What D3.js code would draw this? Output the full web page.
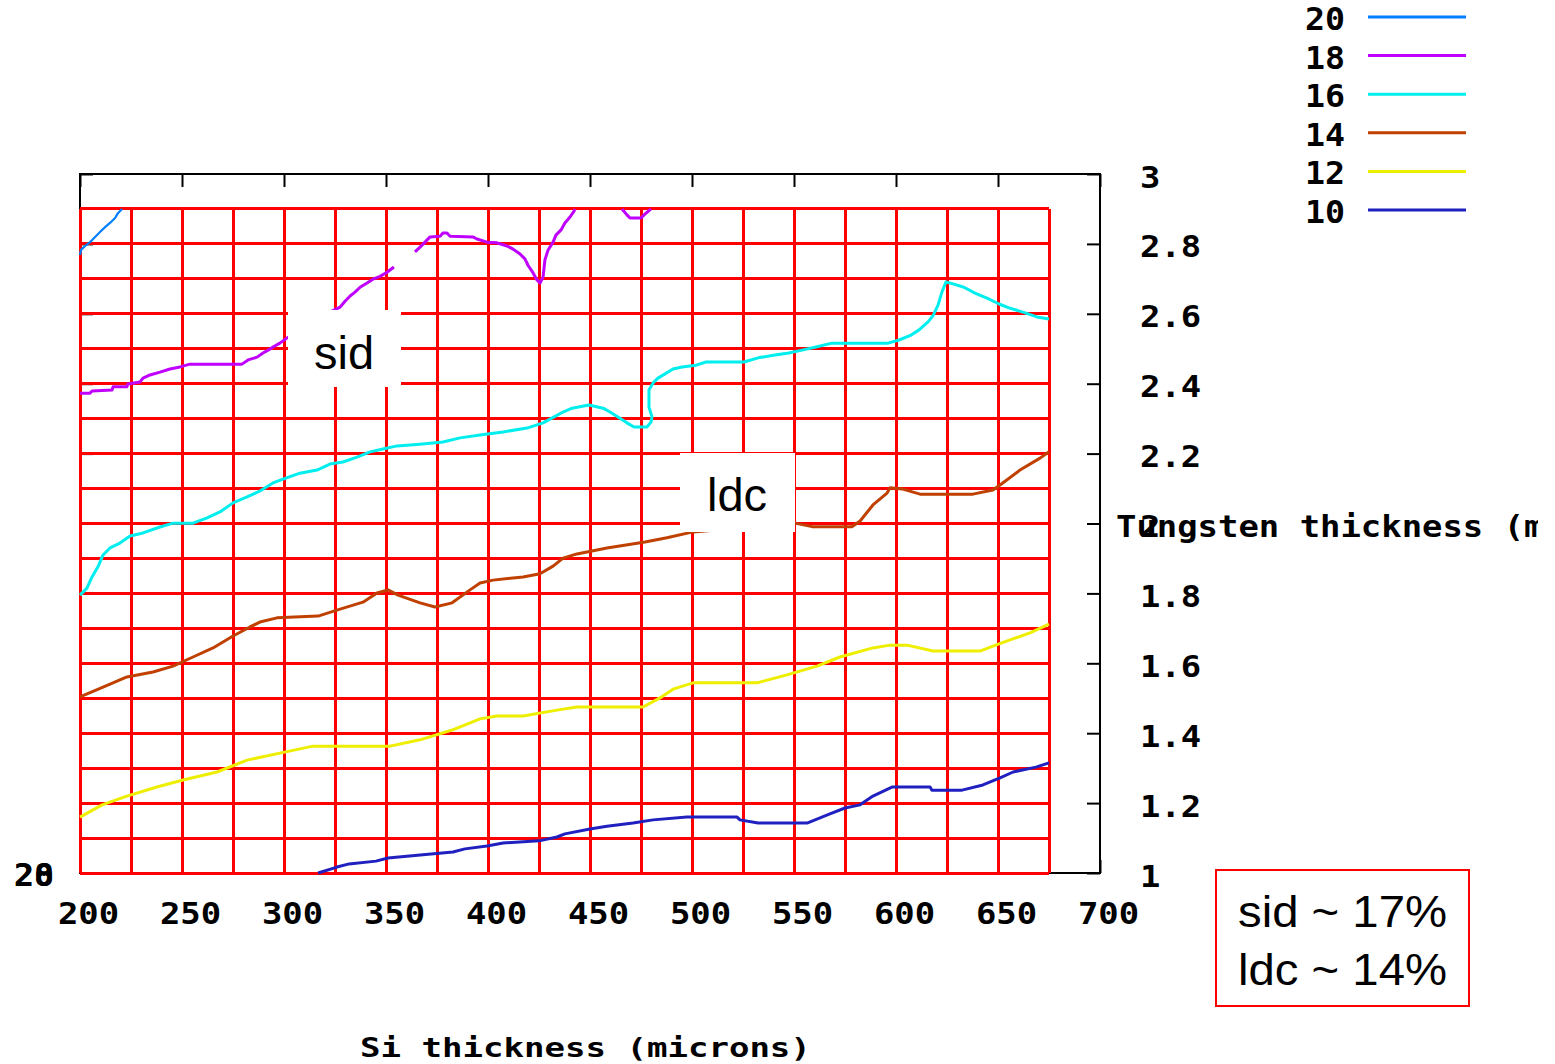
<!DOCTYPE html>
<html><head><meta charset="utf-8">
<script src="https://cdn.jsdelivr.net/npm/d3@7"></script>
<style>body{margin:0;background:#fff}svg{display:block}</style>
</head><body>
<svg id="c" width="1555" height="1064"></svg>
<script>
// ---------- data ----------
const xTicks = [200, 250, 300, 350, 400, 450, 500, 550, 600, 650, 700];
const yTicks = [1, 1.2, 1.4, 1.6, 1.8, 2, 2.2, 2.4, 2.6, 2.8, 3];
const gridX = [200,225,250,275,300,325,350,375,400,425,450,475,500,525,550,575,600,625,650,675];
const gridY = [1.0,1.1,1.2,1.3,1.4,1.5,1.6,1.7,1.8,1.9,2.0,2.1,2.2,2.3,2.4,2.5,2.6,2.7,2.8,2.9];
const levels = ["20", "18", "16", "14", "12", "10"];

const s20 = [[200,2.768],[200.5,2.783],[202.5,2.794],[204.9,2.805],[207.4,2.820],[209.8,2.834],[212.3,2.848],[214.7,2.860],[217.2,2.874],[218.6,2.888],[220.6,2.9]];
const s18 = [[200,2.373],[204.9,2.373],[205.9,2.379],[215.7,2.382],[216.2,2.391],[223.0,2.391],[223.5,2.399],[229.4,2.405],[230.9,2.416],[234.3,2.425],[239.2,2.433],[244.1,2.442],[249.0,2.448],[253.9,2.456],[279.4,2.456],[282.4,2.468],[286.8,2.476],[289.7,2.488],[292.2,2.496],[294.6,2.505],[298.0,2.516],[301.5,2.531],[307.8,2.554],[315.2,2.582],[322.5,2.605],[327.5,2.619],[329.9,2.636],[332.4,2.651],[334.8,2.662],[337.3,2.676],[340.7,2.688],[343.6,2.699],[347.1,2.707],[350.5,2.719],[353.9,2.734],
  null,
  [364.2,2.777],[366.7,2.791],[369.1,2.805],[371.6,2.820],[376.5,2.822],[377.9,2.831],[379.9,2.831],[381.4,2.822],[392.6,2.820],[394.6,2.814],[399.5,2.805],[404.4,2.803],[409.3,2.794],[412.3,2.785],[415.7,2.771],[418.1,2.757],[419.6,2.739],[422.1,2.717],[424.0,2.697],[425.5,2.688],[427.0,2.705],[427.9,2.754],[429.4,2.782],[431.9,2.805],[433.3,2.825],[435.8,2.840],[437.7,2.860],[440.2,2.877],[442.2,2.894],[442.6,2.9],
  null,
  [465.7,2.9],[468.1,2.883],[469.6,2.874],[475.0,2.874],[476.5,2.883],[479.9,2.9]];
const s16 = [[200,1.795],[203.4,1.815],[205.9,1.847],[208.8,1.876],[211.3,1.910],[214.7,1.930],[219.6,1.944],[224.5,1.964],[230.9,1.973],[239.2,1.990],[245.6,2.001],[255.4,2.001],[262.3,2.016],[268.6,2.033],[275.0,2.059],[281.9,2.076],[288.2,2.093],[294.6,2.116],[299.5,2.127],[307.8,2.144],[316.2,2.153],[322.5,2.170],[328.9,2.176],[335.8,2.190],[342.2,2.205],[348.5,2.213],[355.4,2.222],[366.7,2.227],[377.9,2.233],[386.3,2.245],[396.1,2.253],[407.4,2.262],[419.1,2.273],[427.0,2.288],[432.4,2.305],[436.8,2.319],[441.2,2.330],[449.5,2.339],[456.4,2.330],[459.8,2.319],[463.7,2.305],[468.1,2.288],[471.6,2.276],[477.9,2.276],[479.9,2.290],[480.4,2.305],[478.9,2.333],[478.9,2.382],[480.9,2.402],[483.3,2.416],[486.8,2.428],[490.7,2.442],[495.1,2.448],[502.0,2.453],[506.9,2.462],[525.5,2.462],[532.4,2.474],[540.7,2.482],[547.5,2.488],[553.9,2.496],[560.8,2.505],[568.6,2.516],[596.1,2.516],[601.5,2.525],[607.4,2.539],[611.3,2.554],[615.7,2.577],[618.1,2.594],[620.6,2.625],[622.5,2.662],[624.5,2.691],[628.4,2.685],[633.3,2.676],[638.7,2.659],[644.6,2.645],[650.5,2.628],[655.4,2.617],[663.7,2.602],[669.1,2.591],[675,2.585]];
const s14 = [[200,1.504],[211.3,1.532],[223.0,1.561],[235.8,1.575],[245.6,1.592],[255.4,1.618],[265.2,1.644],[275.0,1.678],[283.3,1.704],[288.2,1.718],[296.6,1.730],[316.7,1.735],[327.5,1.755],[338.7,1.775],[345.6,1.801],[351.0,1.810],[355.9,1.795],[366.7,1.773],[374.0,1.761],[382.4,1.773],[391.2,1.810],[396.1,1.830],[402.5,1.838],[417.2,1.847],[425.5,1.856],[431.9,1.878],[436.8,1.901],[443.6,1.913],[458.3,1.930],[477.0,1.947],[487.7,1.959],[500.5,1.976],[523.5,1.987],[550.5,2.001],[558.8,1.991],[578.4,1.991],[582.4,2.007],[588.7,2.053],[595.6,2.087],[597.1,2.102],[602.9,2.099],[611.8,2.084],[637.7,2.084],[647.5,2.096],[651.0,2.110],[660.8,2.153],[670.6,2.187],[675,2.205]];
const s12 = [[200,1.160],[210.8,1.195],[223.0,1.220],[237.7,1.246],[250.5,1.266],[267.2,1.289],[281.9,1.323],[298.0,1.343],[314.2,1.363],[352.0,1.363],[366.7,1.381],[382.4,1.409],[396.1,1.441],[404.4,1.449],[417.2,1.449],[433.8,1.466],[443.6,1.475],[476.0,1.475],[484.3,1.501],[490.7,1.526],[500.5,1.544],[531.9,1.544],[546.6,1.567],[561.3,1.592],[572.5,1.618],[588.7,1.644],[597.1,1.652],[605.4,1.652],[618.1,1.635],[641.2,1.635],[647.5,1.649],[655.9,1.667],[665.7,1.687],[675,1.712]];
const s10 = [[316.7,1.0],[326.0,1.017],[331.9,1.026],[345.1,1.034],[351.0,1.043],[368.1,1.052],[382.8,1.060],[388.7,1.069],[399.5,1.077],[407.4,1.086],[425.0,1.092],[433.8,1.103],[437.7,1.112],[450.0,1.126],[458.3,1.134],[471.1,1.143],[480.9,1.152],[497.5,1.160],[522.1,1.160],[523.5,1.152],[532.4,1.143],[556.4,1.143],[567.6,1.169],[575.0,1.186],[582.4,1.195],[588.7,1.220],[598.0,1.246],[616.7,1.246],[617.6,1.237],[632.4,1.237],[642.6,1.252],[651.0,1.272],[657.4,1.289],[668.6,1.303],[675,1.315]];

const seriesList = [s20, s18, s16, s14, s12, s10];
const palette = ["#0080ff", "#c000ff", "#00eeee", "#c04000", "#eeee00", "#2020c0"];

// ---------- drawing ----------
const svg = d3.select("#c");
const FONT = '"DejaVu Sans Mono", monospace';
const x = d3.scaleLinear().domain([200, 700]).range([80, 1100]);
const y = d3.scaleLinear().domain([1, 3]).range([873, 174]);

function ptext(g, str, px, py, size, sx, anchor) {
  return g.append("text")
    .attr("transform", `translate(${px},${py}) scale(${sx},1)`)
    .attr("text-anchor", anchor || "start")
    .style("font-family", FONT).style("font-weight", "bold")
    .style("font-size", size + "px").attr("fill", "#000")
    .text(str);
}

// frame
svg.append("rect").attr("x", 80).attr("y", 174).attr("width", 1020).attr("height", 699)
  .attr("fill", "none").attr("stroke", "#000").attr("stroke-width", 2);

// axes (ticks inward)
const styleAxis = g => { g.select(".domain").remove(); g.selectAll("line").attr("stroke", "#000").attr("stroke-width", 2); };
svg.append("g").attr("transform", "translate(0,174)")
  .call(d3.axisTop(x).tickValues(xTicks).tickSizeInner(-13).tickSizeOuter(0).tickFormat(""))
  .call(styleAxis);
svg.append("g").attr("transform", "translate(80,0)")
  .call(d3.axisLeft(y).tickValues(yTicks).tickSizeInner(-13).tickSizeOuter(0).tickFormat(""))
  .call(styleAxis);
const xb = svg.append("g").attr("transform", "translate(0,873)")
  .call(d3.axisBottom(x).tickValues(xTicks).tickSizeInner(-13).tickSizeOuter(0).tickFormat(d => d))
  .call(styleAxis);
xb.selectAll("text").attr("y", 0).attr("dy", 0).attr("x", 0)
  .attr("transform", "translate(8,51) scale(1.13,1)")
  .attr("fill", "#000").style("font-family", FONT).style("font-weight", "bold").style("font-size", "30px");
const yr = svg.append("g").attr("transform", "translate(1100,0)")
  .call(d3.axisRight(y).tickValues(yTicks).tickSizeInner(-13).tickSizeOuter(0).tickFormat(d => String(+d.toFixed(1))))
  .call(styleAxis);
yr.selectAll("text").attr("x", 0).attr("dy", 0).attr("text-anchor", "start")
  .attr("transform", "translate(40,13) scale(1.13,1)")
  .attr("fill", "#000").style("font-family", FONT).style("font-weight", "bold").style("font-size", "30px");

// red data grid
const grid = svg.append("g").attr("stroke", "#ff0000").attr("stroke-width", 3).attr("shape-rendering", "crispEdges");
grid.selectAll("line.v").data(gridX).join("line").attr("class", "v")
  .attr("x1", d => x(d)).attr("x2", d => x(d)).attr("y1", y(1)).attr("y2", y(2.9));
grid.selectAll("line.h").data(gridY).join("line").attr("class", "h")
  .attr("y1", d => y(d)).attr("y2", d => y(d)).attr("x1", x(200)).attr("x2", x(675));

// contour lines
const line = d3.line().defined(d => d !== null).x(d => x(d[0])).y(d => y(d[1]));
seriesList.forEach((s, i) => {
  svg.append("path").attr("d", line(s)).attr("fill", "none")
    .attr("stroke", palette[i]).attr("stroke-width", i === 0 ? 2.2 : 3)
    .attr("stroke-linejoin", "round");
});

// sid / ldc annotation boxes
svg.append("rect").attr("x", 288).attr("y", 310).attr("width", 113).attr("height", 77).attr("fill", "#fff");
svg.append("text").attr("x", 344).attr("y", 369).attr("text-anchor", "middle")
  .style("font-family", "Liberation Sans, Arial, sans-serif").style("font-size", "47px").text("sid");
svg.append("rect").attr("x", 680).attr("y", 453).attr("width", 115).attr("height", 79).attr("fill", "#fff");
svg.append("text").attr("x", 737).attr("y", 511).attr("text-anchor", "middle")
  .style("font-family", "Liberation Sans, Arial, sans-serif").style("font-size", "47px").text("ldc");

// legend
levels.forEach((lv, i) => {
  const ly = 17 + i * 38.6;
  ptext(svg, lv, 1345, ly + 13, 32, 1.04, "end");
  svg.append("line").attr("x1", 1368).attr("x2", 1466).attr("y1", ly).attr("y2", ly)
    .attr("stroke", palette[i]).attr("stroke-width", 3);
});

// axis titles
ptext(svg, "Si thickness (microns)", 360, 1057, 26, 1.31, "start");
svg.append("clipPath").attr("id", "clipT").append("rect").attr("x", 0).attr("y", 0).attr("width", 1538).attr("height", 1064);
ptext(svg.append("g").attr("clip-path", "url(#clipT)"), "Tungsten thickness (mm)", 1116, 537, 30, 1.13, "start");

// overlapping stray labels bottom-left
ptext(svg, "20", 14, 886, 32, 1.04, "start");
ptext(svg, "28", 14, 886, 32, 1.04, "start");

// summary box
svg.append("rect").attr("x", 1216).attr("y", 870).attr("width", 253).attr("height", 136)
  .attr("fill", "#fff").attr("stroke", "#ff0000").attr("stroke-width", 2);
svg.append("text").attr("x", 1238).attr("y", 927).attr("textLength", 209).attr("lengthAdjust", "spacingAndGlyphs")
  .style("font-family", "Liberation Sans, Arial, sans-serif").style("font-size", "44px").text("sid ~ 17%");
svg.append("text").attr("x", 1238).attr("y", 985).attr("textLength", 209).attr("lengthAdjust", "spacingAndGlyphs")
  .style("font-family", "Liberation Sans, Arial, sans-serif").style("font-size", "44px").text("ldc ~ 14%");
</script></body></html>
